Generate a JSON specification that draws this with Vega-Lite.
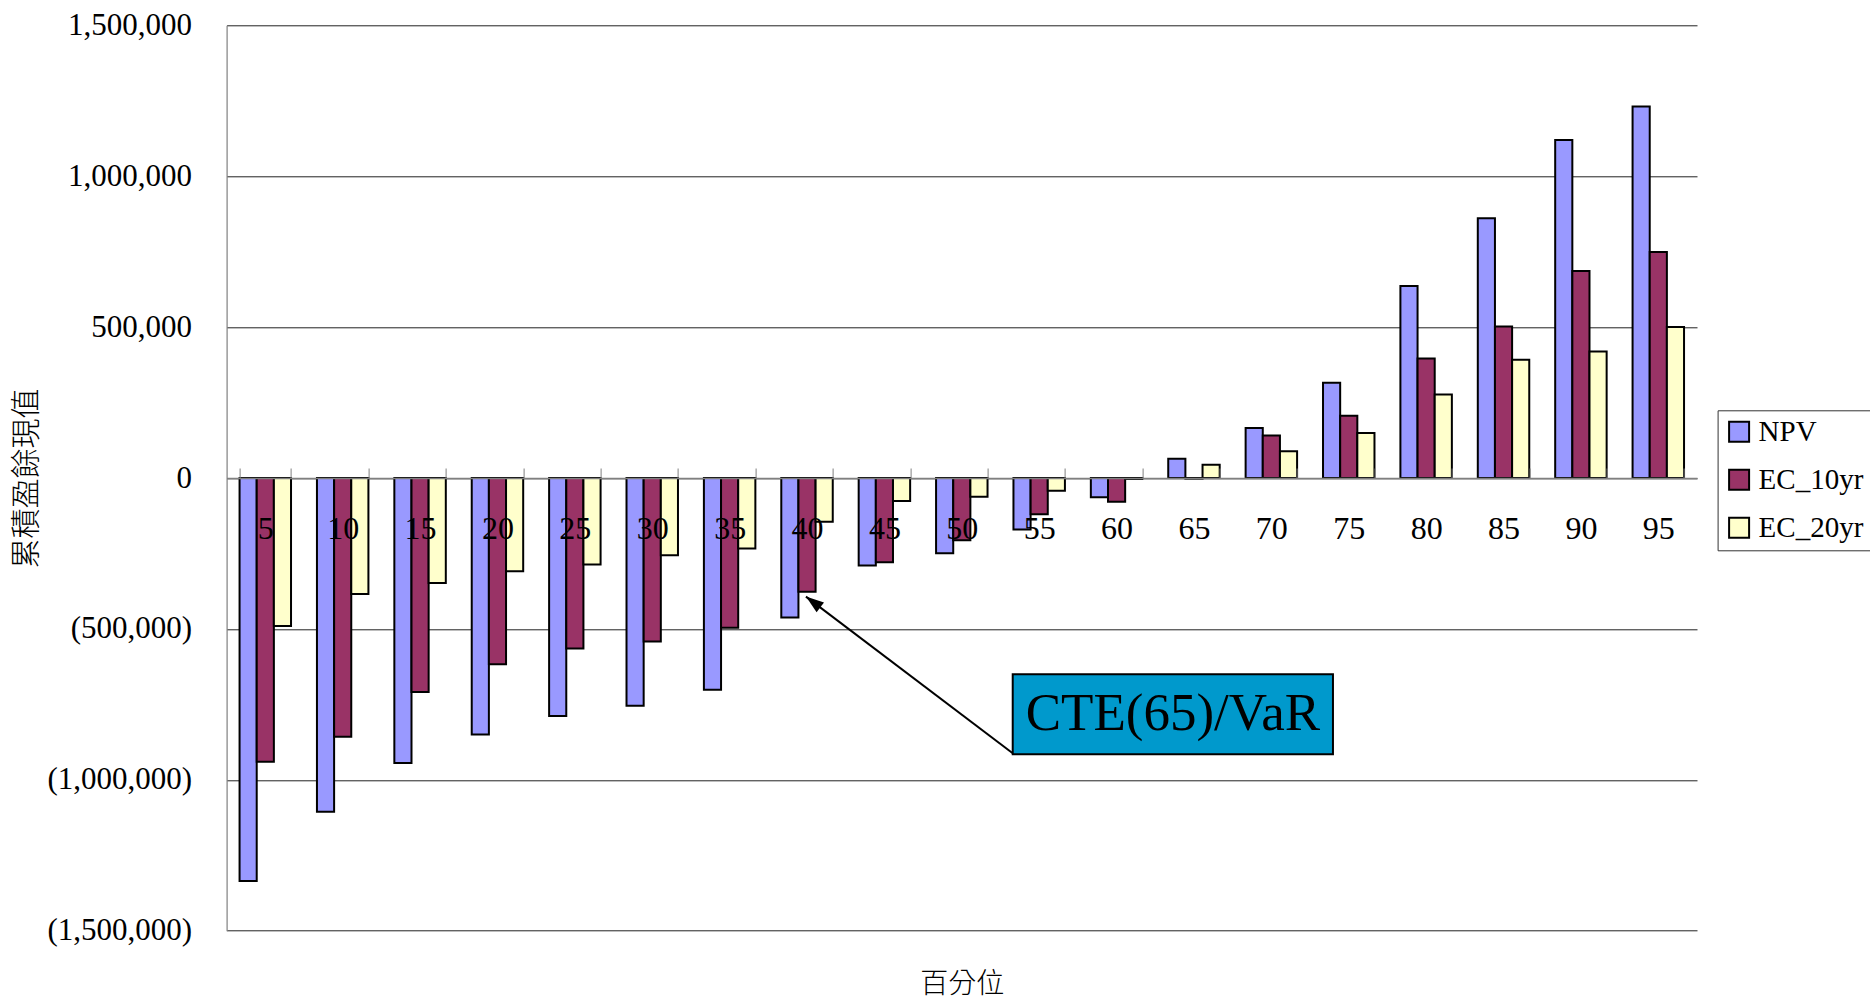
{
  "$schema": "https://vega.github.io/schema/vega-lite/v6.json",
  "width": 1470.4,
  "height": 905.4,
  "autosize": {"type": "none"},
  "padding": {"left": 226.6, "top": 25.3, "right": 173, "bottom": 72.3},
  "background": "white",
  "config": {
    "view": {"stroke": null},
    "font": "Liberation Serif",
    "axis": {"labelColor": "black", "titleColor": "black", "titleFontWeight": "normal"}
  },
  "datasets": {
    "bars": [
      {"pct": 5, "s": "NPV", "v": -1335000}, {"pct": 5, "s": "EC_10yr", "v": -940000}, {"pct": 5, "s": "EC_20yr", "v": -490000},
      {"pct": 10, "s": "NPV", "v": -1106000}, {"pct": 10, "s": "EC_10yr", "v": -857000}, {"pct": 10, "s": "EC_20yr", "v": -384000},
      {"pct": 15, "s": "NPV", "v": -944000}, {"pct": 15, "s": "EC_10yr", "v": -709000}, {"pct": 15, "s": "EC_20yr", "v": -348000},
      {"pct": 20, "s": "NPV", "v": -850000}, {"pct": 20, "s": "EC_10yr", "v": -617000}, {"pct": 20, "s": "EC_20yr", "v": -309000},
      {"pct": 25, "s": "NPV", "v": -789000}, {"pct": 25, "s": "EC_10yr", "v": -565000}, {"pct": 25, "s": "EC_20yr", "v": -287000},
      {"pct": 30, "s": "NPV", "v": -755000}, {"pct": 30, "s": "EC_10yr", "v": -542000}, {"pct": 30, "s": "EC_20yr", "v": -256000},
      {"pct": 35, "s": "NPV", "v": -702000}, {"pct": 35, "s": "EC_10yr", "v": -496000}, {"pct": 35, "s": "EC_20yr", "v": -234000},
      {"pct": 40, "s": "NPV", "v": -462000}, {"pct": 40, "s": "EC_10yr", "v": -377000}, {"pct": 40, "s": "EC_20yr", "v": -145000},
      {"pct": 45, "s": "NPV", "v": -290000}, {"pct": 45, "s": "EC_10yr", "v": -279000}, {"pct": 45, "s": "EC_20yr", "v": -76000},
      {"pct": 50, "s": "NPV", "v": -249000}, {"pct": 50, "s": "EC_10yr", "v": -206000}, {"pct": 50, "s": "EC_20yr", "v": -62000},
      {"pct": 55, "s": "NPV", "v": -171000}, {"pct": 55, "s": "EC_10yr", "v": -120000}, {"pct": 55, "s": "EC_20yr", "v": -42000},
      {"pct": 60, "s": "NPV", "v": -64000}, {"pct": 60, "s": "EC_10yr", "v": -79000}, {"pct": 60, "s": "EC_20yr", "v": -3000},
      {"pct": 65, "s": "NPV", "v": 64000}, {"pct": 65, "s": "EC_10yr", "v": -2000}, {"pct": 65, "s": "EC_20yr", "v": 44000},
      {"pct": 70, "s": "NPV", "v": 166000}, {"pct": 70, "s": "EC_10yr", "v": 141000}, {"pct": 70, "s": "EC_20yr", "v": 89000},
      {"pct": 75, "s": "NPV", "v": 316000}, {"pct": 75, "s": "EC_10yr", "v": 206000}, {"pct": 75, "s": "EC_20yr", "v": 149000},
      {"pct": 80, "s": "NPV", "v": 636000}, {"pct": 80, "s": "EC_10yr", "v": 396000}, {"pct": 80, "s": "EC_20yr", "v": 277000},
      {"pct": 85, "s": "NPV", "v": 861000}, {"pct": 85, "s": "EC_10yr", "v": 502000}, {"pct": 85, "s": "EC_20yr", "v": 392000},
      {"pct": 90, "s": "NPV", "v": 1120000}, {"pct": 90, "s": "EC_10yr", "v": 686000}, {"pct": 90, "s": "EC_20yr", "v": 419000},
      {"pct": 95, "s": "NPV", "v": 1231000}, {"pct": 95, "s": "EC_10yr", "v": 749000}, {"pct": 95, "s": "EC_20yr", "v": 500000}
    ],
    "note": [
      {"k": "line", "p": 39.93, "v": -393000, "p2": 53.29, "v2": -912000},
      {"k": "box", "p": 53.29, "v": -650000, "p2": 73.98, "v2": -915000},
      {"k": "label", "p": 63.64, "v": -782000, "t": "CTE(65)/VaR"}
    ]
  },
  "encoding": {
    "y": {
      "field": "v",
      "type": "quantitative",
      "scale": {"domain": [-1500000, 1500000], "nice": false, "zero": false},
      "axis": {
        "values": [-1500000, -1000000, -500000, 0, 500000, 1000000, 1500000],
        "labelExpr": "datum.value < 0 ? '(' + format(-datum.value, ',') + ')' : format(datum.value, ',')",
        "labelFont": "Liberation Serif",
        "labelFontSize": 31,
        "labelPadding": 35,
        "ticks": false,
        "domain": true,
        "domainColor": "#808080",
        "domainWidth": 1.2,
        "grid": true,
        "gridColor": "#222222",
        "gridWidth": 1,
        "zindex": 0,
        "title": "累積盈餘現值",
        "titleFont": "Noto Sans CJK TC",
        "titleFontSize": 30,
        "titleFontWeight": 300,
        "titleX": -200,
        "titleY": 452.7,
        "titleAngle": -90,
        "titleAlign": "center",
        "titleBaseline": "middle"
      }
    }
  },
  "layer": [
    {
      "data": {"name": "bars"},
      "mark": {"type": "bar", "stroke": "black", "strokeWidth": 2},
      "encoding": {
        "x": {
          "field": "pct",
          "type": "ordinal",
          "scale": {"paddingInner": 0.335, "paddingOuter": 0.1675},
          "axis": {
            "orient": "bottom",
            "offset": -452.7,
            "title": null,
            "labelAngle": 0,
            "labelFont": "Liberation Serif",
            "labelFontSize": 32,
            "labelPadding": 45,
            "domainColor": "#808080",
            "domainWidth": 1.5,
            "ticks": true,
            "tickBand": "extent",
            "tickSize": -10,
            "tickColor": "#808080",
            "grid": false,
            "zindex": 1
          }
        },
        "xOffset": {
          "field": "s",
          "type": "nominal",
          "sort": ["NPV", "EC_10yr", "EC_20yr"],
          "scale": {"paddingInner": 0, "paddingOuter": 0}
        },
        "color": {
          "field": "s",
          "type": "nominal",
          "sort": ["NPV", "EC_10yr", "EC_20yr"],
          "scale": {"domain": ["NPV", "EC_10yr", "EC_20yr"], "range": ["#9999FF", "#993366", "#FFFFCC"]},
          "legend": {
            "orient": "none",
            "legendX": 1491,
            "legendY": 385,
            "title": null,
            "fillColor": "white",
            "strokeColor": "#333333",
            "padding": 7,
            "symbolType": "square",
            "symbolSize": 400,
            "symbolStrokeColor": "black",
            "symbolStrokeWidth": 2,
            "symbolOpacity": 1,
            "labelFont": "Liberation Serif",
            "labelFontSize": 29,
            "labelColor": "black",
            "labelOffset": 5,
            "rowPadding": 18
          }
        }
      }
    },
    {
      "data": {"name": "note"},
      "encoding": {
        "x": {
          "field": "p",
          "type": "quantitative",
          "scale": {"domain": [2.5, 97.5], "nice": false, "zero": false},
          "axis": {
            "orient": "bottom",
            "title": "百分位",
            "titleFont": "Noto Sans CJK TC",
            "titleFontSize": 28,
            "titleFontWeight": 300,
            "titlePadding": 40,
            "labels": false,
            "ticks": false,
            "domain": false,
            "grid": false
          }
        }
      },
      "layer": [
        {
          "transform": [{"filter": "datum.k === 'line'"}],
          "mark": {"type": "rule", "color": "black", "strokeWidth": 2},
          "encoding": {"x2": {"field": "p2"}, "y2": {"field": "v2"}}
        },
        {
          "transform": [{"filter": "datum.k === 'line'"}],
          "mark": {"type": "point", "shape": "M0,0L0.34,1L-0.34,1Z", "filled": true, "color": "black", "opacity": 1, "size": 1296, "angle": 307.1},
          "encoding": {}
        },
        {
          "transform": [{"filter": "datum.k === 'box'"}],
          "mark": {"type": "rect", "fill": "#0099CC", "stroke": "black", "strokeWidth": 2},
          "encoding": {"x2": {"field": "p2"}, "y2": {"field": "v2"}}
        },
        {
          "transform": [{"filter": "datum.k === 'label'"}],
          "mark": {"type": "text", "font": "Liberation Serif", "fontSize": 53, "color": "black", "align": "center", "baseline": "middle"},
          "encoding": {"text": {"field": "t"}}
        }
      ]
    }
  ],
  "resolve": {"scale": {"x": "independent"}, "axis": {"x": "independent"}}
}
